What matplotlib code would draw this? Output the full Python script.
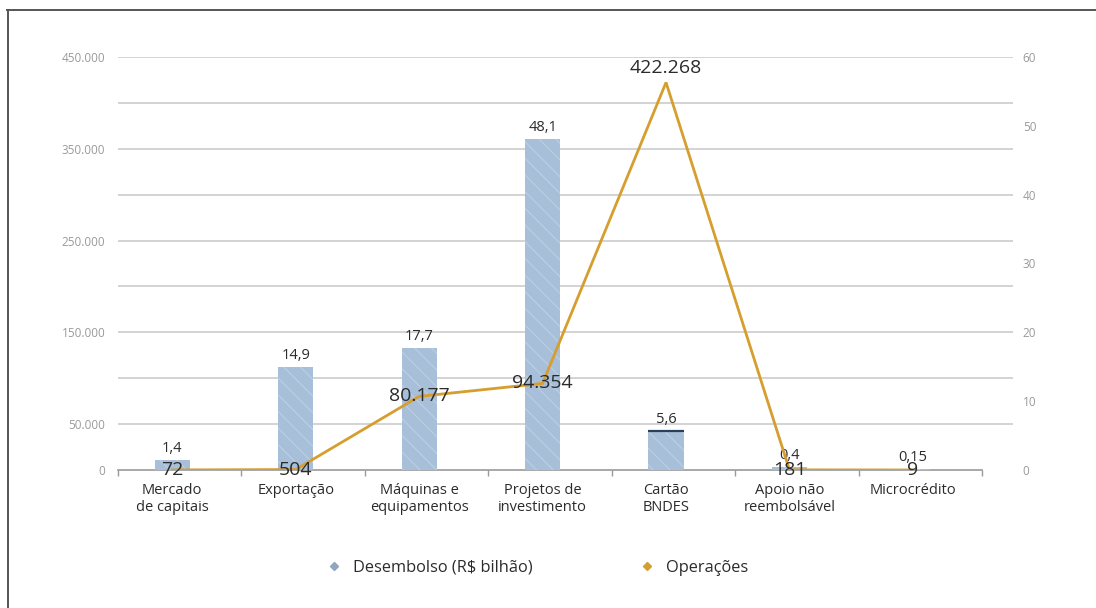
import matplotlib
matplotlib.use("Agg")
import matplotlib.pyplot as plt
from matplotlib.lines import Line2D
from matplotlib.ticker import FixedLocator, FuncFormatter

plt.rcParams['font.family'] = ['Open Sans', 'DejaVu Sans']

categories = ["Mercado\nde capitais", "Exportação", "Máquinas e\nequipamentos",
              "Projetos de\ninvestimento", "Cartão\nBNDES", "Apoio não\nreembolsável",
              "Microcrédito"]
desembolso = [1.4, 14.9, 17.7, 48.1, 5.6, 0.4, 0.15]          # R$ bilhão (right axis)
operacoes = [72, 504, 80177, 94354, 422268, 181, 9]          # count (left axis)
left_ticks = [0, 50000, 150000, 250000, 350000, 450000]
right_ticks = [0, 10, 20, 30, 40, 50, 60]

BAR = '#a7bfd8'
HATCH = '#bfd1e4'
LINE = '#d69e2e'
GRID = '#cccccc'
TICK_TXT = '#9a9a9a'
TXT = '#2b2b2b'

fig = plt.figure(figsize=(10.96, 6.08), dpi=100)
W, H = 1096, 608
x0, x1, ytop, ybot = 118, 1013, 57, 470
ax = fig.add_axes([x0 / W, 1 - ybot / H, (x1 - x0) / W, (ybot - ytop) / H])
ax2 = ax.twinx()

n = len(categories)
shift = -0.06  # marks sit slightly left of the category slot centre
xs = [i + shift for i in range(n)]
span = (x1 - x0) / ((982 - x0) / n)  # category axis ends before the gridlines do
ax.set_xlim(-0.5, -0.5 + span)

# bars on the right-hand scale
ax.set_ylim(0, 60)
bw = 0.285
ax.bar(xs, desembolso, width=bw, color=BAR, edgecolor='none', zorder=2)
plt.rcParams['hatch.linewidth'] = 0.7
ax.bar(xs, desembolso, width=bw, facecolor='none', edgecolor=HATCH,
       linewidth=0, hatch='\\\\', zorder=2.1)
# dark top edge on the card bar
ci = 4
ax.hlines(desembolso[ci], xs[ci] - bw / 2, xs[ci] + bw / 2, color='#2a3f5c', lw=1.6, zorder=2.2)

for x, v in zip(xs, desembolso):
    ax.annotate(f"{v}".replace('.', ','), (x, v), xytext=(0, 3), textcoords='offset points',
                ha='center', va='bottom', fontsize=10.5, color=TXT, zorder=5)

ax.yaxis.set_ticks_position('right')
ax.yaxis.set_label_position('right')
ax.yaxis.set_major_locator(FixedLocator(right_ticks))
ax.tick_params(axis='y', length=0, pad=7, labelsize=8.5, labelcolor=TICK_TXT,
               labelleft=False, labelright=True)

ax.set_xticks(xs)
ax.set_xticklabels(categories, fontsize=10.5, color=TXT, linespacing=1.2)
ax.set_xticks([i - 0.5 for i in range(n + 1)], minor=True)
ax.tick_params(axis='x', which='major', length=0, pad=9)
ax.tick_params(axis='x', which='minor', length=4, color='#999999', width=1)

for s in ['top', 'left', 'right', 'bottom']:
    ax.spines[s].set_visible(False)
ax.plot([-0.5, n - 0.5], [0, 0], color='#9a9a9a', lw=1.2, clip_on=False, zorder=1.5)

# line on the left-hand scale
ax2.set_ylim(0, 450000)
for g in range(50000, 450001, 50000):
    ax.axhline(g * 60 / 450000, color=GRID, lw=1.2, zorder=0)
ax2.plot(xs, operacoes, color=LINE, lw=2.0, zorder=3, solid_joinstyle='miter')
for x, v in zip(xs, operacoes):
    lab = f"{v:,}".replace(',', '.')
    if v == max(operacoes):
        ax2.annotate(lab, (x, v), xytext=(0, 4), textcoords='offset points',
                     ha='center', va='bottom', fontsize=14, color=TXT, zorder=6)
    else:
        ax2.annotate(lab, (x, v), ha='center', va='center', fontsize=14,
                     color=TXT, zorder=6)

ax2.yaxis.set_ticks_position('left')
ax2.yaxis.set_major_locator(FixedLocator(left_ticks))
ax2.yaxis.set_major_formatter(FuncFormatter(lambda v, p: f"{int(v):,}".replace(',', '.')))
ax2.tick_params(axis='y', length=0, pad=9, labelsize=8.5, labelcolor=TICK_TXT,
                labelleft=True, labelright=False)
for s in ['top', 'left', 'right', 'bottom']:
    ax2.spines[s].set_visible(False)

# legend
handles = [Line2D([], [], marker='D', ls='none', markersize=4, color='#8fa6be'),
           Line2D([], [], marker='D', ls='none', markersize=4, color=LINE)]
fig.legend(handles, ["Desembolso (R$ bilhão)", "Operações"], loc='center',
           bbox_to_anchor=(0.491, 1 - 568 / H), ncol=2, frameon=False,
           fontsize=11.8, handlelength=0.8, handletextpad=0.75, columnspacing=6.6,
           labelcolor=TXT)

# frame lines on top and left
fig.add_artist(Line2D([7 / W, 1], [1 - 10 / H, 1 - 10 / H], color='#555555', lw=1.4))
fig.add_artist(Line2D([7.5 / W, 7.5 / W], [0, 1 - 10 / H], color='#555555', lw=1.4))

fig.savefig("out.png", dpi=100)
